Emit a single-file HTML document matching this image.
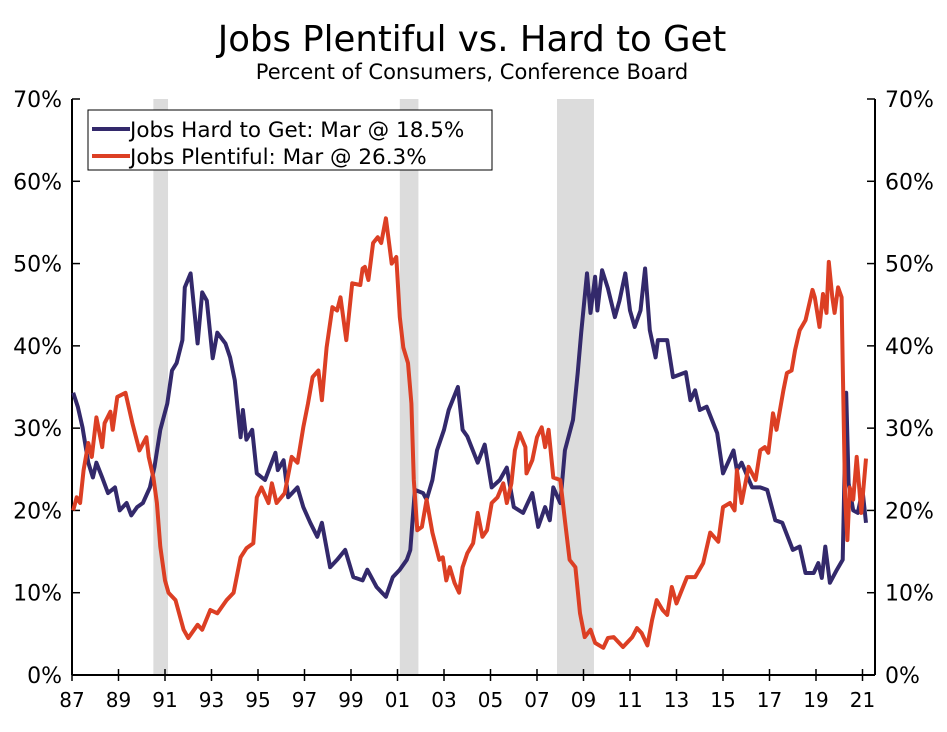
<!DOCTYPE html>
<html><head><meta charset="utf-8"><style>
body{margin:0;background:#fff;}
svg text{font-family:"DejaVu Sans","Liberation Sans",sans-serif;fill:#000;}
</style></head><body>
<svg id="chart" width="947" height="727" xmlns="http://www.w3.org/2000/svg">
<text x="472" y="51" text-anchor="middle" font-size="35.5">Jobs Plentiful vs. Hard to Get</text>
<text x="472" y="79" text-anchor="middle" font-size="21">Percent of Consumers, Conference Board</text>
<g id="rec"></g>
<g id="axes"></g>
<g id="series"></g>
<g>
<rect x="88" y="110" width="404" height="60" fill="#fff" stroke="#000" stroke-width="1"/>
<line x1="92" y1="129" x2="130" y2="129" stroke="#33296b" stroke-width="4"/>
<text x="130" y="137" font-size="21.5">Jobs Hard to Get: Mar @ 18.5%</text>
<line x1="92" y1="156" x2="130" y2="156" stroke="#dc3f24" stroke-width="4"/>
<text x="130" y="164" font-size="21.5">Jobs Plentiful: Mar @ 26.3%</text>
</g>
</svg>
<script>
const yTicks=[0,10,20,30,40,50,60,70];
const xTickYears=[1987,1989,1991,1993,1995,1997,1999,2001,2003,2005,2007,2009,2011,2013,2015,2017,2019,2021];
const xTickLabels=["87","89","91","93","95","97","99","01","03","05","07","09","11","13","15","17","19","21"];
const recStart=[1990.5,2001.1,2007.86];
const recEnd=[1991.13,2001.9,2009.45];
const hardYears=[1987.05,1987.25,1987.45,1987.7,1987.9,1988.05,1988.3,1988.55,1988.85,1989.05,1989.35,1989.55,1989.8,1990.05,1990.35,1990.55,1990.8,1991.1,1991.3,1991.5,1991.75,1991.85,1992.1,1992.4,1992.6,1992.8,1993.05,1993.25,1993.6,1993.8,1994.0,1994.25,1994.35,1994.5,1994.75,1994.95,1995.3,1995.75,1995.85,1996.1,1996.3,1996.7,1996.95,1997.25,1997.55,1997.75,1998.1,1998.4,1998.75,1999.1,1999.5,1999.7,2000.1,2000.5,2000.8,2001.1,2001.4,2001.55,2001.75,2002.1,2002.25,2002.5,2002.7,2003.0,2003.2,2003.6,2003.8,2004.0,2004.45,2004.75,2005.05,2005.4,2005.7,2006.0,2006.4,2006.8,2007.05,2007.35,2007.55,2007.7,2008.0,2008.2,2008.55,2008.75,2008.9,2009.15,2009.3,2009.5,2009.6,2009.8,2010.05,2010.35,2010.55,2010.8,2011.0,2011.2,2011.45,2011.65,2011.85,2012.1,2012.2,2012.6,2012.85,2013.4,2013.6,2013.8,2014.0,2014.3,2014.75,2015.0,2015.45,2015.6,2015.8,2016.25,2016.6,2016.9,2017.25,2017.55,2018.0,2018.3,2018.55,2018.9,2019.1,2019.25,2019.4,2019.6,2019.9,2020.15,2020.3,2020.4,2020.6,2020.8,2021.0,2021.15];
const hardValues=[34.3,32.6,30.1,25.8,24,25.8,24,22.1,22.8,20,20.9,19.4,20.4,20.9,22.8,25.3,29.8,33,37,37.9,40.7,47.1,48.8,40.3,46.5,45.5,38.5,41.6,40.3,38.6,35.8,28.9,32.2,28.6,29.8,24.5,23.7,27,24.9,26.1,21.6,22.8,20.4,18.5,16.8,18.5,13.1,14,15.2,11.9,11.5,12.8,10.7,9.5,11.9,12.8,14,15.2,22.5,22.1,21.3,23.7,27.3,29.8,32.2,35,29.8,29,25.8,28,22.8,23.7,25.2,20.4,19.7,22.1,18,20.4,18.8,22.8,20.9,27.3,31,36.7,41.6,48.8,44,48.4,44.3,49.2,47,43.5,45.5,48.8,44.3,42.3,44.3,49.4,41.9,38.6,40.7,40.7,36.2,36.8,33.4,34.6,32.2,32.6,29.4,24.5,27.3,24.9,25.8,22.8,22.8,22.5,18.8,18.5,15.2,15.6,12.4,12.4,13.6,11.8,15.6,11.2,12.8,14,34.3,23.3,20,19.7,22.5,18.5];
const plentYears=[1987.05,1987.2,1987.35,1987.5,1987.7,1987.85,1988.05,1988.3,1988.4,1988.65,1988.75,1988.95,1989.3,1989.6,1989.9,1990.2,1990.3,1990.5,1990.65,1990.8,1991.0,1991.15,1991.45,1991.8,1992.0,1992.4,1992.6,1992.95,1993.25,1993.65,1993.95,1994.25,1994.5,1994.8,1994.95,1995.15,1995.45,1995.6,1995.8,1996.15,1996.45,1996.7,1996.95,1997.15,1997.35,1997.6,1997.75,1997.95,1998.2,1998.4,1998.55,1998.8,1999.05,1999.4,1999.5,1999.6,1999.75,1999.95,2000.15,2000.3,2000.5,2000.75,2000.95,2001.1,2001.25,2001.45,2001.6,2001.7,2001.85,2002.05,2002.25,2002.5,2002.8,2002.95,2003.1,2003.25,2003.45,2003.65,2003.8,2004.0,2004.25,2004.45,2004.65,2004.85,2005.05,2005.3,2005.55,2005.7,2005.9,2006.05,2006.25,2006.5,2006.55,2006.8,2007.0,2007.2,2007.35,2007.5,2007.7,2008.0,2008.2,2008.4,2008.65,2008.85,2009.05,2009.3,2009.5,2009.85,2010.05,2010.3,2010.7,2011.1,2011.3,2011.5,2011.75,2011.95,2012.15,2012.4,2012.6,2012.8,2013.0,2013.45,2013.8,2014.15,2014.45,2014.8,2015.0,2015.3,2015.5,2015.6,2015.8,2016.1,2016.4,2016.6,2016.8,2016.95,2017.15,2017.3,2017.6,2017.75,2017.95,2018.1,2018.3,2018.55,2018.85,2018.95,2019.15,2019.3,2019.45,2019.55,2019.7,2019.8,2019.95,2020.1,2020.15,2020.25,2020.35,2020.45,2020.6,2020.75,2020.95,2021.15];
const plentValues=[20,21.6,20.9,24.9,28.2,26.5,31.3,27.7,30.6,32,29.8,33.8,34.3,30.6,27.3,28.9,26.5,24,20.9,15.6,11.5,10,9.1,5.5,4.5,6.1,5.5,7.9,7.5,9.1,10,14.3,15.4,16,21.6,22.8,20.9,23.3,20.9,22.1,26.5,25.8,30.1,33,36.2,37,33.4,39.8,44.7,44.3,45.9,40.7,47.6,47.4,49.4,49.6,48,52.5,53.2,52.5,55.5,50,50.8,43.5,39.8,37.9,33,23.7,17.6,18,21.3,17.3,14,14.3,11.5,13.1,11.2,10,13.1,14.8,16,19.7,16.8,17.6,20.9,21.6,23.3,20.9,23.3,27.3,29.4,27.7,24.5,26.1,28.9,30.1,27.7,29.8,24,23.7,18.8,14,13.1,7.5,4.6,5.5,3.9,3.3,4.5,4.6,3.4,4.6,5.7,5.1,3.6,6.7,9.1,7.9,7.3,10.7,8.7,11.9,11.9,13.6,17.3,16.2,20.4,20.9,20,24.9,20.9,25.3,23.7,27.3,27.7,27,31.8,29.8,34.6,36.7,37,39.5,41.9,43.1,46.8,45.9,42.3,46.3,44,50.2,45.9,44,47.1,45.9,37.9,21.6,16.4,22.8,21.3,26.5,19.7,26.3];

const X0=72,X1=875,Y0=675,Y1=99;
const xs=y=>X0+(y-1987)*23.25;
const ys=v=>Y0-(v/70)*(Y0-Y1);
const NS="http://www.w3.org/2000/svg";
function mk(tag,attrs,parent){const e=document.createElementNS(NS,tag);for(const k in attrs)e.setAttribute(k,attrs[k]);parent.appendChild(e);return e;}
const rec=document.getElementById('rec'),axes=document.getElementById('axes'),series=document.getElementById('series');
for(let i=0;i<recStart.length;i++){
 const r=mk('rect',{x:xs(recStart[i]),y:Y1,width:xs(recEnd[i])-xs(recStart[i]),height:Y0-Y1,fill:'#dcdcdc'},rec);
 
 
}
mk('line',{x1:X0,y1:Y1,x2:X0,y2:Y0,stroke:'#000','stroke-width':2},axes);
mk('line',{x1:X1,y1:Y1,x2:X1,y2:Y0,stroke:'#000','stroke-width':2},axes);
mk('line',{x1:X0,y1:Y0,x2:X1,y2:Y0,stroke:'#000','stroke-width':2},axes);
yTicks.forEach(v=>{
 const y=ys(v);
 mk('line',{x1:X0,y1:y,x2:X0+8,y2:y,stroke:'#000','stroke-width':1.5},axes);
 mk('line',{x1:X1-8,y1:y,x2:X1,y2:y,stroke:'#000','stroke-width':1.5},axes);
 const l=mk('text',{x:X0-10,y:y+8,'text-anchor':'end','font-size':22},axes);l.textContent=v+'%';
 
 
 const r=mk('text',{x:X1+10,y:y+8,'font-size':22},axes);r.textContent=v+'%';
 
 
});
xTickYears.forEach((yr,i)=>{
 const x=xs(yr);
 mk('line',{x1:x,y1:Y0-6,x2:x,y2:Y0+6,stroke:'#000','stroke-width':1.5},axes);
 const t=mk('text',{x:x,y:Y0+32,'text-anchor':'middle','font-size':20},axes);t.textContent=xTickLabels[i];
 
 
});
function line(yrs,vals,color,name){
 const d=yrs.map((y,i)=>(i?'L':'M')+xs(y).toFixed(1)+','+ys(vals[i]).toFixed(1)).join('');
 const p=mk('path',{d:d,fill:'none',stroke:color,'stroke-width':4,'stroke-linejoin':'round'},series);
 
 
}
line(hardYears,hardValues,'#33296b','jobs-hard-to-get-line');
line(plentYears,plentValues,'#dc3f24','jobs-plentiful-line');
</script>
</body></html>
